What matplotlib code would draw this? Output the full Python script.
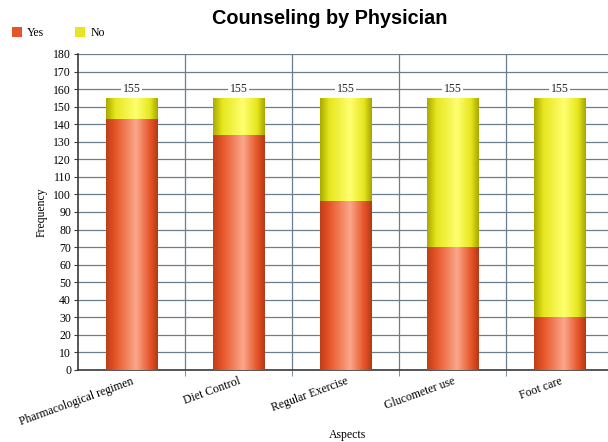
import matplotlib
matplotlib.use("Agg")
import matplotlib.pyplot as plt
import numpy as np
from matplotlib.colors import LinearSegmentedColormap
from matplotlib.patches import Rectangle

# ── Data ──
aspects = ["Pharmacological regimen", "Diet Control", "Regular Exercise",
           "Glucometer use", "Foot care"]
yes_counts = [143, 134, 96, 70, 30]
no_counts = [12, 21, 59, 85, 125]
totals = [y + n for y, n in zip(yes_counts, no_counts)]

# ── Style ──
SERIF = "Liberation Serif"
C_GRID = "#6A7D8C"
C_AXIS = "#3A3A3A"
CM_YES = LinearSegmentedColormap.from_list(
    "yes", [(0, "#BF3E18"), (0.18, "#E65528"), (0.58, "#FBA78A"),
            (0.85, "#E65528"), (1, "#B53814")])
CM_NO = LinearSegmentedColormap.from_list(
    "no", [(0, "#A9A900"), (0.18, "#E6E61E"), (0.58, "#FFFF70"),
           (0.85, "#E6E61E"), (1, "#A5A500")])
GRAD = np.linspace(0, 1, 256).reshape(1, -1)


def shade(ax, bars, cmap):
    # paint a horizontal gradient inside each bar
    for p in bars.patches:
        x0, y0 = p.get_x(), p.get_y()
        im = ax.imshow(GRAD, cmap=cmap, aspect="auto", interpolation="bicubic",
                       extent=(x0, x0 + p.get_width(), y0, y0 + p.get_height()),
                       zorder=3)
        im.set_clip_path(p)


fig = plt.figure(figsize=(6.08, 4.42), dpi=100)
ax = fig.add_axes([78 / 608, 72 / 442, 535 / 608, 316 / 442])

x = np.arange(len(aspects))
w = 0.48
b_yes = ax.bar(x, yes_counts, w, color="#E65528", zorder=2, label="Yes")
b_no = ax.bar(x, no_counts, w, bottom=yes_counts, color="#E6E61E",
              zorder=2, label="No")
shade(ax, b_yes, CM_YES)
shade(ax, b_no, CM_NO)

for xi, t in zip(x, totals):
    ax.text(xi, t + 5, str(t), ha="center", va="center", fontsize=8.5,
            family=SERIF, color="#222222", zorder=4,
            bbox=dict(facecolor="white", edgecolor="none", pad=1.0))

ax.set_xlim(-0.5, len(aspects) - 0.5)
ax.set_ylim(0, 180)
ax.set_yticks(range(0, 181, 10))
ax.set_xticks(x)
ax.set_xticks(x[:-1] + 0.5, minor=True)
ax.set_xticklabels(aspects, rotation=20, ha="right", rotation_mode="anchor",
                   family=SERIF, fontsize=8.5)
for lab in ax.get_yticklabels():
    lab.set_family(SERIF)
    lab.set_fontsize(8.5)
ax.tick_params(axis="x", which="major", length=0, pad=4)
ax.tick_params(axis="x", which="minor", length=4, color=C_GRID)
ax.tick_params(axis="y", length=3, pad=2, color=C_AXIS)

ax.grid(axis="y", color=C_GRID, lw=0.9, zorder=0)
ax.grid(axis="x", which="minor", color=C_GRID, lw=0.9, zorder=0)
ax.set_axisbelow(True)
for s in ("top", "right"):
    ax.spines[s].set_visible(False)
for s in ("left", "bottom"):
    ax.spines[s].set_color(C_AXIS)
    ax.spines[s].set_linewidth(1.2)

ax.set_ylabel("Frequency", family=SERIF, fontsize=8.5, labelpad=4)
ax.set_xlabel("Aspects", family=SERIF, fontsize=8.5, va="center")
ax.xaxis.set_label_coords(0.503, -0.206)

fig.text(330 / 608, 1 - 18 / 442, "Counseling by Physician", ha="center",
         va="center", fontsize=14.3, fontweight="bold", family="Liberation Sans")

handles = [Rectangle((0, 0), 1, 1, facecolor="#E65528", edgecolor="none"),
           Rectangle((0, 0), 1, 1, facecolor="#E6E61E", edgecolor="none")]
fig.legend(handles, ["Yes", "No"], loc="center left",
           bbox_to_anchor=(1 / 608, 1 - 33 / 442), ncol=2, frameon=False,
           prop={"family": SERIF, "size": 8.5}, handlelength=0.9,
           handleheight=0.9, handletextpad=0.4, columnspacing=2.6)

fig.savefig("out.png", dpi=100)
